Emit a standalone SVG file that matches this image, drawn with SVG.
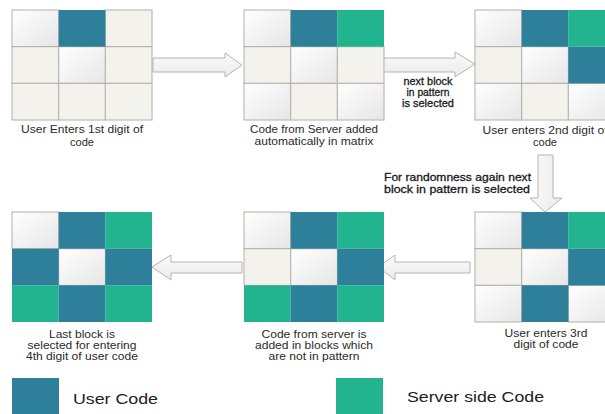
<svg xmlns="http://www.w3.org/2000/svg" width="605" height="414" viewBox="0 0 605 414">
<defs>
<linearGradient id="gloss" x1="0" y1="0" x2="1" y2="1">
<stop offset="0" stop-color="#ffffff"/>
<stop offset="1" stop-color="#e6e6e6"/>
</linearGradient>
<linearGradient id="arrowFill" x1="0" y1="0" x2="0" y2="1">
<stop offset="0" stop-color="#fafafa"/>
<stop offset="1" stop-color="#ebebeb"/>
</linearGradient>
<linearGradient id="arrowFillV" x1="0" y1="0" x2="1" y2="0">
<stop offset="0" stop-color="#fafafa"/>
<stop offset="1" stop-color="#ebebeb"/>
</linearGradient>
</defs>
<style>
.p{fill:#f4f2ed;stroke:#b2b0aa;stroke-width:1}
.g{fill:url(#gloss);stroke:#b2b0aa;stroke-width:1}
.b{fill:#2e7f99}
.s{fill:#21b48e}
.arr{fill:url(#arrowFill);stroke:#b4b4b4;stroke-width:1}
.arrv{fill:url(#arrowFillV);stroke:#b4b4b4;stroke-width:1}
.lbl{font-family:"Liberation Sans",Arial,sans-serif;font-size:11px;fill:#2a2a2a;text-anchor:middle}
.lbl2{font-family:"Liberation Sans",Arial,sans-serif;font-size:10px;fill:#2a2a2a;text-anchor:middle}
.note{font-family:"Liberation Sans",Arial,sans-serif;font-size:11px;fill:#1a1a1a;stroke:#1a1a1a;stroke-width:0.3}
.leg{font-family:"Liberation Sans",Arial,sans-serif;font-size:15.5px;fill:#222}
</style>
<rect width="605" height="414" fill="#ffffff"/>

<g id="connectors">
<polygon class="arr" points="153,58 225,58 225,53 242,65 225,77 225,72 153,72"/>
<polygon class="arr" points="382,58 455,58 455,52 475,64 455,77 455,72 382,72"/>
<polygon class="arrv" points="538,155 553,155 553,198 562,198 545,212 530,198 538,198"/>
<polygon class="arr" points="470,262 395,262 395,255 378,267 395,280 395,273 470,273"/>
<polygon class="arr" points="242,262 171,262 171,255 152,267 171,280 171,273 242,273"/>
<text class="note" text-anchor="middle" x="428" y="85" textLength="49" lengthAdjust="spacingAndGlyphs">next block</text>
<text class="note" text-anchor="middle" x="428" y="96" textLength="43" lengthAdjust="spacingAndGlyphs">in pattern</text>
<text class="note" text-anchor="middle" x="428" y="107" textLength="52" lengthAdjust="spacingAndGlyphs">is selected</text>
<text class="note" x="384" y="181" textLength="147" lengthAdjust="spacingAndGlyphs">For randomness again next</text>
<text class="note" x="384" y="193" textLength="146" lengthAdjust="spacingAndGlyphs">block in pattern is selected</text>
</g>

<g id="step1" transform="translate(12,10)">
<rect class="g" x="0" y="0" width="46.7" height="36.7"/>
<rect class="p" x="93.3" y="0" width="46.7" height="36.7"/>
<rect class="p" x="0" y="36.7" width="46.7" height="36.7"/>
<rect class="g" x="46.7" y="36.7" width="46.7" height="36.7"/>
<rect class="p" x="93.3" y="36.7" width="46.7" height="36.7"/>
<rect class="p" x="0" y="73.3" width="46.7" height="36.7"/>
<rect class="p" x="46.7" y="73.3" width="46.7" height="36.7"/>
<rect class="p" x="93.3" y="73.3" width="46.7" height="36.7"/>
<rect class="b" x="46.7" y="0" width="46.7" height="36.7"/>
<text class="lbl" x="70" y="123" textLength="122" lengthAdjust="spacingAndGlyphs">User Enters 1st digit of</text>
<text class="lbl" x="70" y="136" textLength="24" lengthAdjust="spacingAndGlyphs">code</text>
</g>

<g id="step2" transform="translate(244,10)">
<rect class="g" x="0" y="0" width="46.7" height="36.7"/>
<rect class="p" x="0" y="36.7" width="46.7" height="36.7"/>
<rect class="g" x="46.7" y="36.7" width="46.7" height="36.7"/>
<rect class="p" x="93.3" y="36.7" width="46.7" height="36.7"/>
<rect class="g" x="0" y="73.3" width="46.7" height="36.7"/>
<rect class="p" x="46.7" y="73.3" width="46.7" height="36.7"/>
<rect class="g" x="93.3" y="73.3" width="46.7" height="36.7"/>
<rect class="b" x="46.7" y="0" width="46.7" height="36.7"/>
<rect class="s" x="93.3" y="0" width="46.7" height="36.7"/>
<text class="lbl" x="70" y="123" textLength="128" lengthAdjust="spacingAndGlyphs">Code from Server added</text>
<text class="lbl" x="70" y="135" textLength="119" lengthAdjust="spacingAndGlyphs">automatically in matrix</text>
</g>

<g id="step3" transform="translate(475,10)">
<rect class="g" x="0" y="0" width="46.7" height="36.7"/>
<rect class="p" x="0" y="36.7" width="46.7" height="36.7"/>
<rect class="g" x="46.7" y="36.7" width="46.7" height="36.7"/>
<rect class="g" x="0" y="73.3" width="46.7" height="36.7"/>
<rect class="p" x="46.7" y="73.3" width="46.7" height="36.7"/>
<rect class="g" x="93.3" y="73.3" width="46.7" height="36.7"/>
<rect class="b" x="46.7" y="0" width="46.7" height="36.7"/>
<rect class="s" x="93.3" y="0" width="46.7" height="36.7"/>
<rect class="b" x="93.3" y="36.7" width="46.7" height="36.7"/>
<text class="lbl" x="70" y="124" textLength="125" lengthAdjust="spacingAndGlyphs">User enters 2nd digit of</text>
<text class="lbl" x="70" y="136" textLength="24" lengthAdjust="spacingAndGlyphs">code</text>
</g>

<g id="step4" transform="translate(475,212)">
<rect class="g" x="0" y="0" width="46.7" height="36.7"/>
<rect class="p" x="0" y="36.7" width="46.7" height="36.7"/>
<rect class="g" x="46.7" y="36.7" width="46.7" height="36.7"/>
<rect class="g" x="0" y="73.3" width="46.7" height="36.7"/>
<rect class="g" x="93.3" y="73.3" width="46.7" height="36.7"/>
<rect class="b" x="46.7" y="0" width="46.7" height="36.7"/>
<rect class="s" x="93.3" y="0" width="46.7" height="36.7"/>
<rect class="b" x="93.3" y="36.7" width="46.7" height="36.7"/>
<rect class="b" x="46.7" y="73.3" width="46.7" height="36.7"/>
<text class="lbl2" x="71" y="125" textLength="83" lengthAdjust="spacingAndGlyphs">User enters 3rd</text>
<text class="lbl2" x="71" y="136" textLength="65" lengthAdjust="spacingAndGlyphs">digit of code</text>
</g>

<g id="step5" transform="translate(244,212)">
<rect class="g" x="0" y="0" width="46.7" height="36.7"/>
<rect class="p" x="0" y="36.7" width="46.7" height="36.7"/>
<rect class="g" x="46.7" y="36.7" width="46.7" height="36.7"/>
<rect class="b" x="46.7" y="0" width="46.7" height="36.7"/>
<rect class="s" x="93.3" y="0" width="46.7" height="36.7"/>
<rect class="b" x="93.3" y="36.7" width="46.7" height="36.7"/>
<rect class="s" x="0" y="73.3" width="46.7" height="36.7"/>
<rect class="b" x="46.7" y="73.3" width="46.7" height="36.7"/>
<rect class="s" x="93.3" y="73.3" width="46.7" height="36.7"/>
<text class="lbl2" x="70" y="126" textLength="105" lengthAdjust="spacingAndGlyphs">Code from server is</text>
<text class="lbl2" x="70" y="137" textLength="118" lengthAdjust="spacingAndGlyphs">added in blocks which</text>
<text class="lbl2" x="70" y="148" textLength="91" lengthAdjust="spacingAndGlyphs">are not in pattern</text>
</g>

<g id="step6" transform="translate(12,212)">
<rect class="g" x="0" y="0" width="46.7" height="36.7"/>
<rect class="g" x="46.7" y="36.7" width="46.7" height="36.7"/>
<rect class="b" x="46.7" y="0" width="46.7" height="36.7"/>
<rect class="s" x="93.3" y="0" width="46.7" height="36.7"/>
<rect class="b" x="0" y="36.7" width="46.7" height="36.7"/>
<rect class="b" x="93.3" y="36.7" width="46.7" height="36.7"/>
<rect class="s" x="0" y="73.3" width="46.7" height="36.7"/>
<rect class="b" x="46.7" y="73.3" width="46.7" height="36.7"/>
<rect class="s" x="93.3" y="73.3" width="46.7" height="36.7"/>
<text class="lbl2" x="70" y="126" textLength="66" lengthAdjust="spacingAndGlyphs">Last block is</text>
<text class="lbl2" x="70" y="137" textLength="109" lengthAdjust="spacingAndGlyphs">selected for entering</text>
<text class="lbl2" x="70" y="148" textLength="112" lengthAdjust="spacingAndGlyphs">4th digit of user code</text>
</g>

<g id="legend-user">
<rect class="b" x="12" y="378" width="47" height="36"/>
<text class="leg" x="73" y="404" textLength="85" lengthAdjust="spacingAndGlyphs">User Code</text>
</g>
<g id="legend-server">
<rect class="s" x="336" y="378" width="47" height="36"/>
<text class="leg" x="407" y="402" textLength="137" lengthAdjust="spacingAndGlyphs">Server side Code</text>
</g>
</svg>
